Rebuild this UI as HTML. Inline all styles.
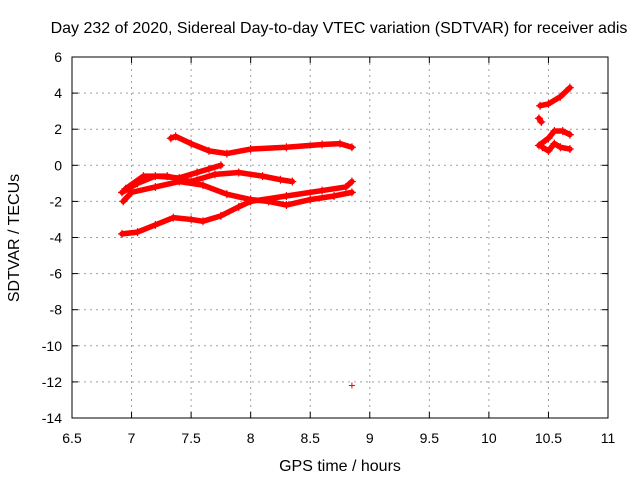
<!DOCTYPE html>
<html><head><meta charset="utf-8"><style>
body{margin:0;background:#fff}
svg text{font-family:"Liberation Sans",sans-serif;font-size:14px;fill:#000}
svg text.big{font-size:16px}
</style></head><body>
<svg id="c" width="640" height="480" xmlns="http://www.w3.org/2000/svg">
<rect width="640" height="480" fill="#fff"/>
<g id="grid"></g><g id="marks"></g><g id="ticks"></g>
<rect x="72" y="57" width="536" height="361" fill="none" stroke="#000" stroke-width="1"/>
<text class="big" x="339" y="33" text-anchor="middle">Day 232 of 2020, Sidereal Day-to-day VTEC variation (SDTVAR) for receiver adis</text>
<text class="big" x="340" y="471" text-anchor="middle">GPS time / hours</text>
<text class="big" transform="translate(19,238) rotate(-90)" text-anchor="middle">SDTVAR / TECUs</text>
</svg>
<script>
const xTicks=[6.5,7,7.5,8,8.5,9,9.5,10,10.5,11];
const yTicks=[6,4,2,0,-2,-4,-6,-8,-10,-12,-14];
const seriesA=[[7.33,1.5],[7.37,1.6],[7.5,1.2],[7.65,0.8],[7.8,0.65],[8.0,0.9],[8.3,1.0],[8.6,1.15],[8.75,1.2],[8.85,1.0]];
const seriesB=[[6.92,-3.8],[7.05,-3.7],[7.2,-3.3],[7.35,-2.9],[7.5,-3.0],[7.6,-3.1],[7.75,-2.8],[7.9,-2.3],[8.0,-2.0],[8.3,-1.7],[8.6,-1.4],[8.8,-1.2],[8.85,-0.9]];
const seriesC=[[6.93,-2.0],[7.0,-1.5],[7.2,-1.2],[7.4,-0.9],[7.6,-1.1],[7.8,-1.6],[8.0,-1.9],[8.15,-2.0],[8.3,-2.2],[8.5,-1.9],[8.7,-1.7],[8.85,-1.5]];
const seriesD=[[6.95,-1.3],[7.1,-0.6],[7.3,-0.6],[7.5,-0.9],[7.7,-0.5],[7.9,-0.4],[8.1,-0.6],[8.25,-0.8],[8.35,-0.9]];
const seriesE=[[6.92,-1.5],[7.05,-1.0],[7.2,-0.6],[7.4,-0.7],[7.55,-0.4],[7.65,-0.2],[7.75,0.0]];
const seriesF=[[10.43,3.3],[10.5,3.4],[10.6,3.8],[10.68,4.3]];
const seriesG=[[10.42,2.6],[10.44,2.4]];
const seriesH=[[10.42,1.1],[10.5,1.5],[10.55,1.9],[10.62,1.9],[10.68,1.7]];
const seriesI=[[10.45,1.0],[10.5,0.8],[10.55,1.2],[10.6,1.0],[10.68,0.9]];
const outliers=[[8.85,-12.2]];
const NS='http://www.w3.org/2000/svg';
const X=v=>72+(v-6.5)*(536/4.5);
const Y=v=>57+(6-v)*(361/20);
function mk(t,a,p){const e=document.createElementNS(NS,t);for(const k in a)e.setAttribute(k,a[k]);p.appendChild(e);return e;}
const grid=document.getElementById('grid'),ticks=document.getElementById('ticks'),marks=document.getElementById('marks');
xTicks.forEach(v=>{
 if(v>6.5&&v<11){const l=mk('line',{x1:X(v),x2:X(v),y1:57,y2:418,stroke:'#a0a0a0','stroke-dasharray':'2,4'},grid);
 
 }
 const t=mk('text',{x:X(v),y:443,'text-anchor':'middle'},ticks);t.textContent=v;
 
 
 mk('line',{x1:X(v),x2:X(v),y1:418,y2:412,stroke:'#000'},ticks);
 mk('line',{x1:X(v),x2:X(v),y1:57,y2:63,stroke:'#000'},ticks);
});
yTicks.forEach(v=>{
 if(v<6&&v>-14){const l=mk('line',{x1:72,x2:608,y1:Y(v),y2:Y(v),stroke:'#a0a0a0','stroke-dasharray':'2,4'},grid);
 
 }
 const t=mk('text',{x:62,y:Y(v)+5,'text-anchor':'end'},ticks);t.textContent=v;
 
 
 mk('line',{x1:72,x2:78,y1:Y(v),y2:Y(v),stroke:'#000'},ticks);
 mk('line',{x1:608,x2:602,y1:Y(v),y2:Y(v),stroke:'#000'},ticks);
});
const all=[seriesA,seriesB,seriesC,seriesD,seriesE,seriesF,seriesG,seriesH,seriesI];
all.forEach((s,i)=>{
 const pl=mk('polyline',{points:s.map(p=>X(p[0])+','+Y(p[1])).join(' '),fill:'none',stroke:'#f00','stroke-width':5.5,'stroke-linejoin':'round','stroke-linecap':'round'},marks);
 
 
 s.forEach(p=>{const m=mk('path',{d:`M${X(p[0])-4},${Y(p[1])}h8M${X(p[0])},${Y(p[1])-4}v8`,stroke:'#f00','stroke-width':1.2},marks);
 
 });
});
outliers.forEach(p=>{const m=mk('path',{d:`M${X(p[0])-3},${Y(p[1])}h6M${X(p[0])},${Y(p[1])-3}v6`,stroke:'#f00','stroke-width':1},marks);
 
 });
</script>
</body></html>
